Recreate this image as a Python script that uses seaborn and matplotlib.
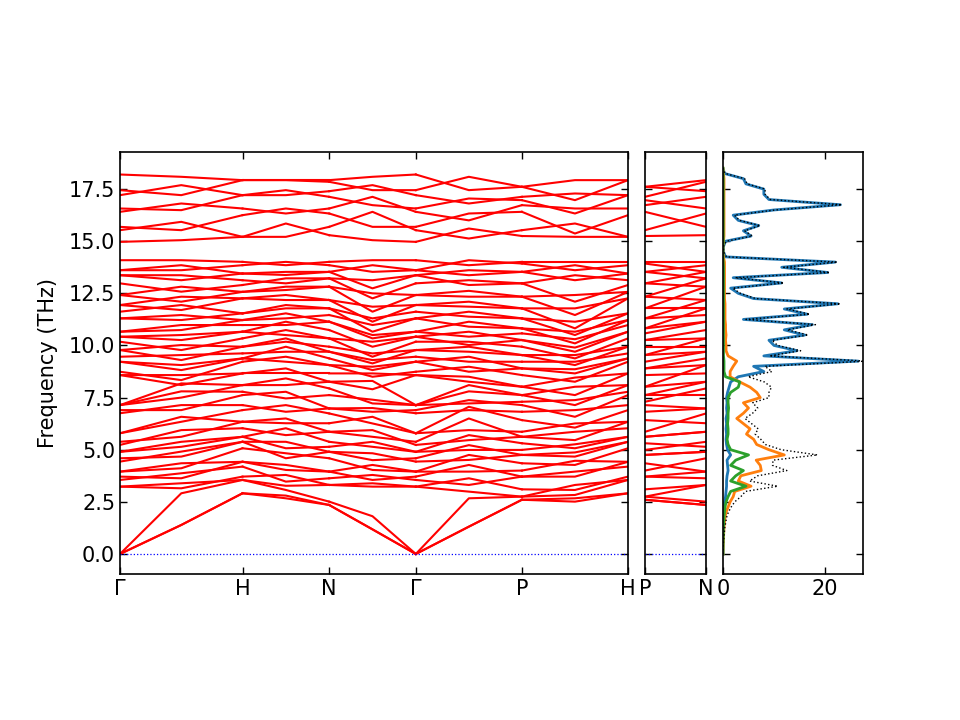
import numpy as np
import pandas as pd
import matplotlib
matplotlib.use("Agg")
import matplotlib.pyplot as plt
import seaborn as sns

# --- band structure: frequencies (THz) read at high-symmetry points and segment midpoints ---
# repeated values are degenerate bands that split away from the point
gamma_f = [0, 0, 0, 3.23, 3.23, 3.55, 3.71, 3.95, 3.95, 4.43, 4.59, 4.90, 4.90, 5.23, 5.38, 5.79,
           5.79, 6.75, 6.90, 7.14, 7.14, 7.14,
           8.58, 8.58, 8.74, 9.22, 9.22, 9.46, 9.78, 9.78, 10.18, 10.42, 10.42, 10.66, 10.66, 11.30,
           11.30, 11.62, 11.94, 11.94, 12.42, 12.42, 12.98, 13.37, 13.37, 13.61, 13.61, 14.09,
           14.97, 15.53, 15.69, 16.41, 16.57, 17.21, 17.45, 18.20]
gh_mid = [1.39, 1.39, 2.91, 3.15, 3.39, 3.63, 3.87, 4.11, 4.35, 4.67, 4.91, 5.14, 5.38, 5.62, 5.94,
          6.34, 6.58, 6.90, 7.14, 7.50, 7.80, 8.10,
          8.18, 8.34, 8.58, 8.82, 9.06, 9.30, 9.54, 9.78, 10.02, 10.26, 10.50, 10.74, 10.98, 11.22,
          11.46, 11.70, 11.94, 12.10, 12.34, 12.58, 12.82, 13.13, 13.37, 13.61, 13.85, 14.09,
          15.05, 15.53, 15.93, 16.49, 16.81, 17.21, 17.69, 18.09]
h_f = [2.91, 2.91, 3.55, 3.55, 3.71, 4.19, 4.42, 4.42, 5.07, 5.38, 5.38, 5.62, 5.62, 6.03, 6.34,
       6.34, 6.90, 7.14, 7.62, 7.78, 8.10, 8.10,
       8.66, 8.66, 9.22, 9.38, 9.38, 9.62, 9.94, 9.94, 10.34, 10.66, 10.66, 10.98, 11.22, 11.22,
       11.54, 11.54, 12.26, 12.26, 12.57, 12.57, 12.90, 13.13, 13.45, 13.45, 13.85, 14.01,
       15.21, 15.21, 16.25, 16.57, 17.21, 17.21, 17.93, 17.93]
hn_mid = [2.67, 2.80, 3.07, 3.27, 3.47, 3.79, 4.03, 4.27, 4.59, 4.83, 5.07, 5.38, 5.70, 6.03, 6.27,
          6.50, 6.82, 7.14, 7.46, 7.78, 8.10, 8.42,
          8.66, 8.90, 9.22, 9.46, 9.70, 9.94, 10.18, 10.34, 10.50, 10.74, 10.98, 11.14, 11.30, 11.54,
          11.78, 11.94, 12.18, 12.42, 12.66, 12.82, 12.98, 13.22, 13.38, 13.53, 13.85, 14.01,
          15.21, 15.85, 16.33, 16.57, 17.21, 17.45, 17.93, 17.93]
n_f = [2.35, 2.35, 2.51, 3.31, 3.31, 3.63, 3.95, 3.95, 4.59, 4.90, 4.90, 5.14, 5.38, 5.86, 5.86,
       6.27, 6.74, 6.98, 6.98, 7.62, 7.94, 8.26,
       8.26, 8.66, 9.06, 9.06, 9.38, 9.70, 9.70, 9.94, 10.34, 10.34, 10.74, 11.14, 11.14, 11.46,
       11.78, 11.78, 12.18, 12.18, 12.82, 12.82, 13.22, 13.22, 13.53, 13.53, 13.85, 14.01,
       15.29, 15.69, 16.33, 16.57, 17.13, 17.40, 17.85, 17.93]
ng_mid = [1.18, 1.18, 1.81, 3.23, 3.39, 3.55, 3.79, 4.03, 4.27, 4.50, 4.83, 5.14, 5.38, 5.62, 5.94,
          6.26, 6.58, 6.82, 7.00, 7.22, 7.40, 7.90,
          8.30, 8.50, 8.66, 8.82, 8.98, 9.14, 9.30, 9.46, 9.62, 9.94, 10.18, 10.34, 10.50, 10.66,
          10.98, 11.14, 11.30, 11.62, 11.86, 12.26, 12.50, 12.74, 13.13, 13.53, 13.85, 14.09,
          15.05, 15.69, 16.41, 16.73, 17.13, 17.45, 17.69, 18.09]
gp_mid = [1.31, 1.31, 2.67, 2.99, 3.31, 3.63, 3.95, 4.27, 4.51, 4.75, 4.99, 5.22, 5.46, 5.70, 5.94,
          6.50, 6.90, 7.06, 7.22, 7.38, 7.80, 8.10,
          8.26, 8.50, 8.74, 8.98, 9.22, 9.46, 9.70, 9.94, 10.02, 10.18, 10.42, 10.66, 10.90, 11.14,
          11.38, 11.62, 11.86, 12.10, 12.34, 12.62, 12.90, 13.13, 13.37, 13.61, 13.85, 14.09,
          15.13, 15.61, 16.00, 16.33, 16.81, 17.05, 17.45, 18.09]
p_f = [2.60, 2.60, 2.75, 2.75, 3.10, 3.71, 3.71, 4.00, 4.35, 4.75, 4.75, 4.99, 5.31, 5.62, 5.62,
       5.86, 6.42, 6.82, 7.14, 7.30, 7.62, 7.62,
       8.02, 8.02, 8.58, 8.90, 8.90, 9.22, 9.54, 9.54, 9.94, 10.26, 10.26, 10.58, 10.82, 10.82,
       11.30, 11.30, 11.78, 11.78, 12.34, 12.34, 12.98, 12.98, 13.53, 13.53, 13.93, 14.01,
       15.25, 15.53, 16.41, 16.73, 16.97, 17.13, 17.61, 17.61]
ph_mid = [2.51, 2.67, 2.83, 3.07, 3.31, 3.71, 3.95, 4.27, 4.47, 4.67, 4.87, 5.07, 5.26, 5.46, 5.86,
          6.06, 6.26, 6.58, 6.90, 7.14, 7.38, 7.62,
          8.02, 8.26, 8.46, 8.66, 8.86, 9.06, 9.22, 9.38, 9.54, 9.70, 9.90, 10.10, 10.30, 10.50,
          10.66, 10.82, 11.14, 11.46, 11.78, 12.10, 12.42, 13.13, 13.37, 13.61, 13.85, 14.01,
          15.21, 15.37, 15.85, 16.33, 16.57, 16.97, 17.29, 17.93]

path_labels = ["Γ", "H", "N", "Γ", "P", "H"]
seg_len = [1.0, 0.7071, 0.7071, 0.8660, 0.8660]  # BCC path lengths in 2pi/a

# --- projected phonon DOS, read every 0.25 THz ---
dos_freq = [0.00, 0.25, 0.50, 0.75, 1.00, 1.25, 1.50, 1.75, 2.00, 2.25, 2.50, 2.75, 3.00, 3.25, 3.50,
            3.75, 4.00, 4.25, 4.50, 4.75, 5.00, 5.25, 5.50, 5.75, 6.00, 6.25, 6.50, 6.75, 7.00, 7.25,
            7.50, 7.75, 8.00, 8.25, 8.50, 8.75, 9.00, 9.25, 9.50, 9.75, 10.00, 10.25, 10.50, 10.75, 11.00,
            11.25, 11.50, 11.75, 12.00, 12.25, 12.50, 12.75, 13.00, 13.25, 13.50, 13.75, 14.00, 14.25,
            14.50, 14.75, 15.00, 15.25, 15.50, 15.75, 16.00, 16.25, 16.50, 16.75, 17.00, 17.25, 17.50,
            17.75, 18.00, 18.25, 18.50]
pdos_blue = [0, 0, 0, 0.02, 0.03, 0.05, 0.08, 0.1, 0.15, 0.2, 0.3, 0.5, 0.6, 0.7, 0.7,
             0.8, 1.0, 0.9, 0.8, 1.5, 0.9, 0.7, 0.6, 0.7, 0.6, 0.7, 0.6, 0.8, 0.7, 0.8,
             0.7, 0.9, 1.2, 1.5, 3.0, 8.0, 6.0, 26.5, 8.0, 14.5, 10.0, 9.0, 16.0, 12.0, 17.5,
             4.0, 16.5, 12.0, 22.5, 6.0, 3.0, 1.5, 11.5, 2.0, 20.5, 11.5, 22.0, 0.5,
             0.1, 0.1, 0.5, 5.5, 4.0, 7.0, 3.0, 2.0, 10.0, 23.0, 9.0, 8.0, 8.0,
             4.5, 4.0, 0.3, 0]
pdos_orange = [0, 0.02, 0.05, 0.1, 0.15, 0.2, 0.3, 0.4, 0.6, 1.0, 1.4, 2.0, 2.3, 5.5, 3.0,
               3.5, 7.5, 7.3, 6.5, 12.0, 9.0, 6.6, 6.0, 4.6, 5.3, 4.0, 2.7, 4.0, 5.0, 4.0,
               7.3, 6.6, 5.3, 3.3, 1.4, 1.4, 2.0, 2.7, 1.0, 0.6, 0.6, 0.5, 0.6, 0.5, 0.5,
               0.4, 0.4, 0.4, 0.4, 0.3, 0.3, 0.3, 0.3, 0.3, 0.3, 0.3, 0.3, 0.1,
               0.0, 0.0, 0.1, 0.2, 0.2, 0.2, 0.2, 0.2, 0.2, 0.2, 0.2, 0.2, 0.2,
               0.2, 0.2, 0.1, 0]
pdos_green = [0, 0.01, 0.02, 0.05, 0.08, 0.1, 0.15, 0.2, 0.3, 0.4, 0.6, 1.0, 1.5, 4.5, 1.5,
              2.5, 4.0, 1.5, 2.5, 5.0, 1.5, 1.0, 0.8, 1.0, 1.0, 0.9, 1.0, 1.0, 1.1, 1.0,
              1.0, 1.5, 3.0, 3.3, 0.5, 0.2, 0.2, 0.2, 0.1, 0.1, 0.1, 0.1, 0.1, 0.1, 0.1,
              0.1, 0.1, 0.1, 0.1, 0.1, 0.1, 0.1, 0.1, 0.1, 0.1, 0.1, 0.05, 0,
              0, 0, 0.05, 0.05, 0.05, 0.05, 0.05, 0.05, 0.05, 0.05, 0.05, 0.05, 0.05,
              0.05, 0.05, 0.02, 0]
dos_total = [0, 0.03, 0.07, 0.17, 0.26, 0.35, 0.53, 0.7, 1.05, 1.6, 2.3, 3.5, 4.4, 10.7, 5.2,
             6.8, 12.5, 9.7, 9.8, 18.5, 11.4, 8.3, 7.4, 6.3, 6.9, 5.6, 4.3, 5.8, 6.8, 5.8,
             9.0, 9.0, 9.5, 8.1, 4.9, 9.6, 8.2, 28.0, 9.1, 15.2, 10.7, 9.6, 16.7, 12.6, 18.1,
             4.5, 17.0, 12.5, 23.0, 6.4, 3.4, 1.9, 11.9, 2.4, 20.9, 11.9, 22.4, 0.7,
             0.1, 0.1, 0.65, 5.75, 4.25, 7.25, 3.25, 2.25, 10.25, 23.25, 9.25, 8.25, 8.25,
             4.75, 4.25, 0.42, 0]

plt.rcParams["axes.linewidth"] = 1.2
plt.rcParams["font.size"] = 15

nb = len(gamma_f)
n_low = 48  # bands below the 14.2-15 THz gap


def crossing_order(offset):
    # pair neighbouring bands so that they cross between two points
    order = list(range(nb))
    for i in range(3 + offset, nb - 1, 2):
        if i == n_low - 1:
            continue
        order[i], order[i + 1] = order[i + 1], order[i]
    return order


# k positions along the path
hs_k = np.concatenate([[0], np.cumsum(seg_len)])
ends = [gamma_f, h_f, n_f, gamma_f, p_f, h_f]
mids = [gh_mid, hn_mid, ng_mid, gp_mid, ph_mid]

rows = []
for s in range(len(seg_len)):
    a, m, c = sorted(ends[s]), sorted(mids[s]), sorted(ends[s + 1])
    order = crossing_order(s % 2)
    k0, k1 = hs_k[s], hs_k[s + 1]
    for b in range(nb):
        rows.append({"band": f"{s}-{b}", "k": k0, "freq": a[b]})
        rows.append({"band": f"{s}-{b}", "k": (k0 + k1) / 2, "freq": m[order[b]]})
        rows.append({"band": f"{s}-{b}", "k": k1, "freq": c[b]})
bands = pd.DataFrame(rows)

pn_rows = []
order = crossing_order(0)
for b in range(nb):
    pn_rows.append({"band": b, "k": 0.0, "freq": sorted(p_f)[b]})
    pn_rows.append({"band": b, "k": 0.5, "freq": sorted(n_f)[order[b]]})
pn = pd.DataFrame(pn_rows)

fig = plt.figure(figsize=(9.6, 7.2), dpi=100)
ax_band = fig.add_axes([0.125, 0.2028, 0.5292, 0.5861])
ax_pn = fig.add_axes([0.6719, 0.2028, 0.0635, 0.5861])
ax_dos = fig.add_axes([0.7531, 0.2028, 0.1458, 0.5861])

ylim = (-0.96, 19.28)
yt = [0, 2.5, 5, 7.5, 10, 12.5, 15, 17.5]

sns.lineplot(data=bands, x="k", y="freq", units="band", estimator=None, color="red", lw=1.5, ax=ax_band)
ax_band.axhline(0, color="blue", ls=":", lw=0.9)
ax_band.set_xlim(hs_k[0], hs_k[-1])
ax_band.set_ylim(*ylim)
ax_band.set_xticks(hs_k, path_labels)
ax_band.set_yticks(yt)
ax_band.set_xlabel("")
ax_band.set_ylabel("Frequency (THz)", labelpad=8)

sns.lineplot(data=pn, x="k", y="freq", units="band", estimator=None, color="red", lw=1.5, ax=ax_pn)
ax_pn.axhline(0, color="blue", ls=":", lw=0.9)
ax_pn.set_xlim(0, 0.5)
ax_pn.set_ylim(*ylim)
ax_pn.set_xticks([0, 0.5], ["P", "N"])
ax_pn.set_yticks(yt)
ax_pn.set_yticklabels([])
ax_pn.set_xlabel("")
ax_pn.set_ylabel("")

for vals, col, lw, ls in [(pdos_blue, "#1f77b4", 2.0, "-"), (pdos_orange, "#ff7f0e", 2.0, "-"),
                          (pdos_green, "#2ca02c", 2.0, "-"), (dos_total, "black", 1.0, ":")]:
    sns.lineplot(x=vals, y=dos_freq, orient="y", sort=False, estimator=None,
                 color=col, lw=lw, ls=ls, ax=ax_dos)
ax_dos.set_xlim(0, 27.4)
ax_dos.set_ylim(*ylim)
ax_dos.set_xticks([0, 20])
ax_dos.set_yticks(yt)
ax_dos.set_yticklabels([])
ax_dos.set_xlabel("")
ax_dos.set_ylabel("")

for ax in (ax_band, ax_pn, ax_dos):
    ax.tick_params(direction="in", top=True, right=True, length=5, width=1.0, labelsize=15)

fig.savefig("out.png", dpi=100)
